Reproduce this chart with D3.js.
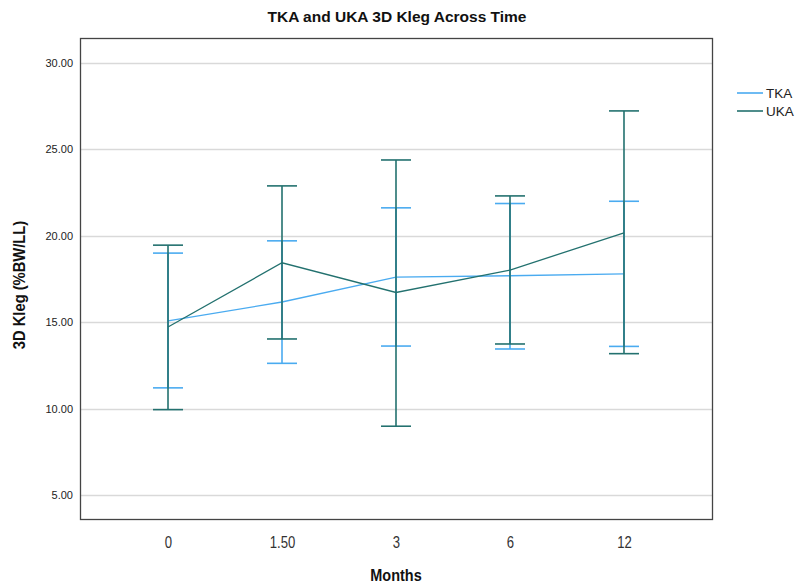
<!DOCTYPE html>
<html>
<head>
<meta charset="utf-8">
<script src="https://cdn.jsdelivr.net/npm/d3@7"></script>
<style>
  html, body { margin: 0; padding: 0; background: #fff; }
  svg { display: block; font-family: "Liberation Sans", Arial, sans-serif; }
</style>
</head>
<body>
<svg id="chart" width="798" height="588"></svg>
<script>
// Time points (months)
const months = ["0", "1.50", "3", "6", "12"];

// TKA: means with error bar bounds
const tkaMean  = [15.08, 16.17, 17.61, 17.69, 17.80];
const tkaLower = [11.20, 12.62, 13.62, 13.45, 13.60];
const tkaUpper = [19.00, 19.71, 21.62, 21.87, 22.00];

// UKA: means with error bar bounds
const ukaMean  = [14.72, 18.44, 16.72, 18.02, 20.17];
const ukaLower = [9.94, 14.03, 8.98, 13.74, 13.18];
const ukaUpper = [19.46, 22.89, 24.39, 22.31, 27.23];

const yTicks = [5, 10, 15, 20, 25, 30];

const seriesNames  = ["TKA", "UKA"];
const seriesColors = ["#4aabf0", "#23716f"];

const series = [
  { name: seriesNames[0], color: seriesColors[0], mean: tkaMean, lo: tkaLower, hi: tkaUpper },
  { name: seriesNames[1], color: seriesColors[1], mean: ukaMean, lo: ukaLower, hi: ukaUpper }
];

const svg = d3.select("#chart");
const plot = { left: 80, right: 712, top: 38, bottom: 519 };

const x = d3.scalePoint()
  .domain(months)
  .range([plot.left, plot.right])
  .padding(0.772);

const y = d3.scaleLinear()
  .domain([3.61, 31.45])
  .range([plot.bottom, plot.top]);

// Gridlines
svg.append("g")
  .selectAll("line")
  .data(yTicks)
  .join("line")
  .attr("x1", plot.left)
  .attr("x2", plot.right)
  .attr("y1", d => Math.round(y(d)) + 0.5)
  .attr("y2", d => Math.round(y(d)) + 0.5)
  .attr("stroke", "#d9d9d9")
  .attr("stroke-width", 1.5);

// Y axis labels
const yAxis = d3.axisLeft(y)
  .tickValues(yTicks)
  .tickFormat(d3.format(".2f"))
  .tickSize(0)
  .tickPadding(7);
const gy = svg.append("g")
  .attr("transform", `translate(${plot.left},0)`)
  .call(yAxis);
gy.select(".domain").remove();
gy.selectAll("text")
  .attr("font-size", 11)
  .attr("fill", "#222")
  .attr("font-family", "Liberation Sans, Arial, sans-serif");

// X axis labels (condensed look)
const xAxis = d3.axisBottom(x).tickSize(0).tickPadding(0);
const gx = svg.append("g")
  .attr("transform", `translate(0,${plot.bottom})`)
  .call(xAxis);
gx.select(".domain").remove();
gx.selectAll("text")
  .attr("font-size", 16)
  .attr("fill", "#333")
  .attr("dy", null)
  .attr("y", 0)
  .attr("transform", "translate(0,29) scale(0.82,1)");

// Plot frame
svg.append("rect")
  .attr("x", plot.left + 0.5)
  .attr("y", plot.top + 0.5)
  .attr("width", plot.right - plot.left)
  .attr("height", plot.bottom - plot.top)
  .attr("fill", "none")
  .attr("stroke", "#444")
  .attr("stroke-width", 1.3);

const capHalf = 15;
const line = d3.line().x((d, i) => x(months[i])).y(d => y(d));

series.forEach(s => {
  const g = svg.append("g");
  // Error bars
  const bars = g.selectAll("g.bar")
    .data(months.map((m, i) => ({ m, lo: s.lo[i], hi: s.hi[i] })))
    .join("g");
  bars.append("line")
    .attr("x1", d => x(d.m)).attr("x2", d => x(d.m))
    .attr("y1", d => y(d.lo)).attr("y2", d => y(d.hi))
    .attr("stroke", s.color).attr("stroke-width", 1.6);
  bars.append("line")
    .attr("x1", d => x(d.m) - capHalf).attr("x2", d => x(d.m) + capHalf)
    .attr("y1", d => y(d.hi)).attr("y2", d => y(d.hi))
    .attr("stroke", s.color).attr("stroke-width", 1.6);
  bars.append("line")
    .attr("x1", d => x(d.m) - capHalf).attr("x2", d => x(d.m) + capHalf)
    .attr("y1", d => y(d.lo)).attr("y2", d => y(d.lo))
    .attr("stroke", s.color).attr("stroke-width", 1.6);
  // Mean line
  g.append("path")
    .attr("d", line(s.mean))
    .attr("fill", "none")
    .attr("stroke", s.color)
    .attr("stroke-width", 1.3);
});

// Title
svg.append("text")
  .attr("x", 397).attr("y", 22)
  .attr("text-anchor", "middle")
  .attr("font-size", 15.5)
  .attr("font-weight", "bold")
  .attr("fill", "#111")
  .text("TKA and UKA 3D Kleg Across Time");

// Axis titles
svg.append("text")
  .attr("transform", "translate(396,581) scale(0.85,1)")
  .attr("text-anchor", "middle")
  .attr("font-size", 17)
  .attr("font-weight", "bold")
  .attr("fill", "#111")
  .text("Months");

svg.append("text")
  .attr("transform", "translate(25,285) rotate(-90) scale(0.92,1)")
  .attr("text-anchor", "middle")
  .attr("font-size", 16)
  .attr("font-weight", "bold")
  .attr("fill", "#111")
  .text("3D Kleg (%BW/LL)");

// Legend
const legend = svg.append("g")
  .selectAll("g")
  .data(series)
  .join("g")
  .attr("transform", (d, i) => `translate(737,${93 + i * 18})`);
legend.append("line")
  .attr("x1", 0).attr("x2", 26)
  .attr("stroke", d => d.color)
  .attr("stroke-width", 1.6);
legend.append("text")
  .attr("x", 29).attr("y", 5)
  .attr("font-size", 13.5)
  .attr("fill", "#222")
  .text(d => d.name);
</script>
</body>
</html>
